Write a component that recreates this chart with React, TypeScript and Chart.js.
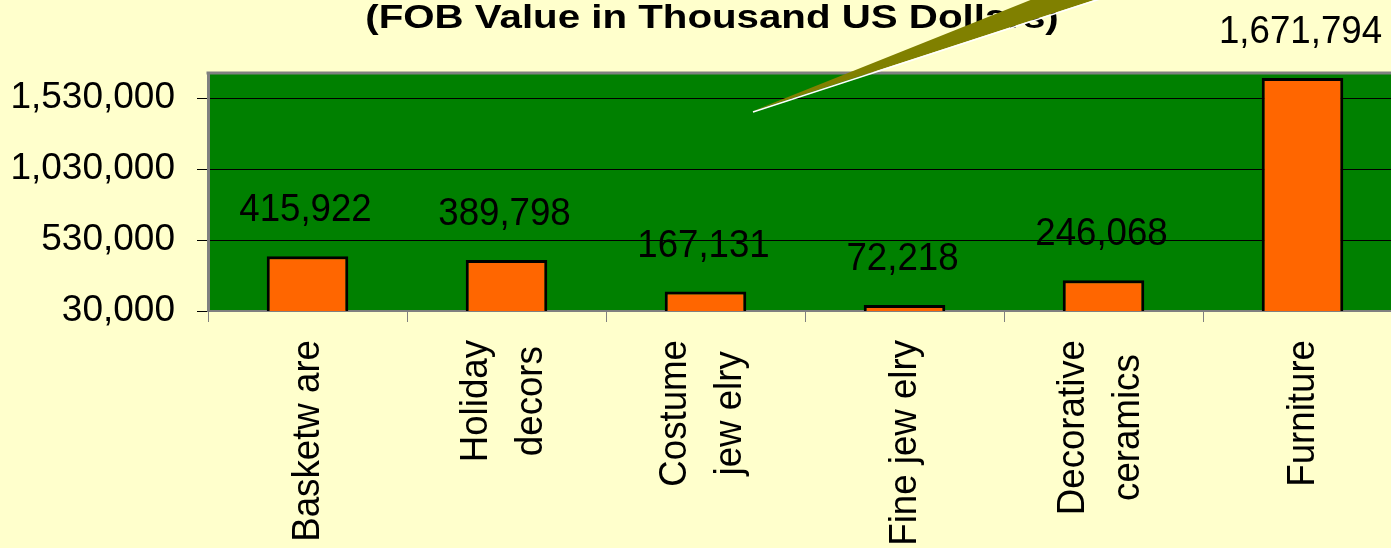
import React, { useEffect, useRef } from 'react';
import { Chart, registerables } from 'chart.js';

Chart.register(...registerables);

// ---- data ----
const CATEGORIES: string[][] = [
  ['Basketw are'],
  ['Holiday', 'decors'],
  ['Costume', 'jew elry'],
  ['Fine jew elry'],
  ['Decorative', 'ceramics'],
  ['Furniture'],
];
const VALUES: number[] = [415922, 389798, 167131, 72218, 246068, 1671794];
const Y_TICKS: number[] = [30000, 530000, 1030000, 1530000];
const Y_MIN = 30000;
const Y_MAX = 1700000;
const TITLE = '(FOB Value in Thousand US Dollars)';

// ---- styling ----
const FONT = '"Liberation Sans", Arial, sans-serif';
const CANVAS_W = 1402;
const CANVAS_H = 548;
const LABEL_SIZE = 39;
const LABEL_SQUEEZE = 0.94;

const fmt = (v: number) => Number(v).toLocaleString('en-US');

const decorPlugin = {
  id: 'decor',
  beforeDraw(chart: any) {
    const { ctx, chartArea: a } = chart;
    ctx.save();
    ctx.fillStyle = '#FFFFCC';
    ctx.fillRect(0, 0, chart.width, chart.height);
    ctx.fillStyle = '#008000';
    ctx.fillRect(a.left, a.top, a.right - a.left, a.bottom - a.top);
    ctx.restore();
  },
  afterDatasetsDraw(chart: any) {
    const { ctx, chartArea: a } = chart;
    const meta = chart.getDatasetMeta(0);
    const xs = chart.scales.x;
    ctx.save();
    // top border of plot area
    ctx.strokeStyle = '#808080';
    ctx.lineWidth = 3;
    ctx.beginPath();
    ctx.moveTo(a.left - 1.5, a.top - 1);
    ctx.lineTo(a.right, a.top - 1);
    ctx.stroke();

    // data labels
    ctx.fillStyle = '#000000';
    ctx.font = `${LABEL_SIZE}px ${FONT}`;
    ctx.textAlign = 'center';
    ctx.textBaseline = 'alphabetic';
    meta.data.forEach((bar: any, i: number) => {
      ctx.save();
      ctx.translate(bar.x - 2, bar.y - 35);
      ctx.scale(LABEL_SQUEEZE, 1);
      ctx.fillText(fmt(VALUES[i]), 0, 0);
      ctx.restore();
    });

    // category labels (rotated, lines centred in block)
    const capH = 0.716 * LABEL_SIZE;
    CATEGORIES.forEach((lines, i) => {
      const cx = xs.getPixelForValue(i);
      const maxW = Math.max(...lines.map((l) => ctx.measureText(l).width)) * LABEL_SQUEEZE;
      const cy = a.bottom + 29 + maxW / 2;
      const n = lines.length;
      const shift = n > 1 ? -5.5 : -2;
      lines.forEach((line, j) => {
        const capCenter = cx + shift + (j - (n - 1) / 2) * 55;
        ctx.save();
        ctx.translate(capCenter + capH / 2, cy);
        ctx.rotate(-Math.PI / 2);
        ctx.scale(LABEL_SQUEEZE, 1);
        ctx.textAlign = 'center';
        ctx.textBaseline = 'alphabetic';
        ctx.fillText(line, 0, 0);
        ctx.restore();
      });
    });
    ctx.restore();
  },
  afterDraw(chart: any) {
    const { ctx } = chart;
    ctx.save();
    // title (partially visible line)
    ctx.fillStyle = '#000000';
    ctx.font = `bold 33px ${FONT}`;
    ctx.textAlign = 'center';
    ctx.textBaseline = 'alphabetic';
    ctx.translate(712, 28);
    ctx.scale(1.22, 1);
    ctx.fillText(TITLE, 0, 0);
    ctx.restore();

    // callout pointer
    ctx.save();
    const tx = 753, ty = 112;
    const k = 2;
    ctx.fillStyle = '#808000';
    ctx.beginPath();
    ctx.moveTo(tx, ty - 1);
    ctx.lineTo(tx + 280 * k, ty - 1 - 112 * k);
    ctx.lineTo(tx + 344 * k, ty - 1 - 112 * k);
    ctx.closePath();
    ctx.fill();
    ctx.strokeStyle = '#FFFFFF';
    ctx.lineWidth = 1.5;
    ctx.beginPath();
    ctx.moveTo(tx, ty);
    ctx.lineTo(tx + 344 * k, ty - 112 * k);
    ctx.stroke();
    ctx.restore();
  },
};

export default function App() {
  const canvasRef = useRef<HTMLCanvasElement | null>(null);

  useEffect(() => {
    if (!canvasRef.current) return;
    const chart = new Chart(canvasRef.current, {
      type: 'bar',
      data: {
        labels: CATEGORIES.map((c) => c.join(' ')),
        datasets: [
          {
            data: VALUES,
            backgroundColor: '#FF6600',
            borderColor: '#000000',
            borderWidth: 3,
            borderSkipped: false,
            barPercentage: 0.41,
            categoryPercentage: 1,
          },
        ],
      },
      options: {
        responsive: false,
        animation: false,
        devicePixelRatio: 1,
        layout: { padding: { top: 74, left: 0, right: 0, bottom: 0 } },
        plugins: {
          legend: { display: false },
          title: { display: false },
          tooltip: { enabled: false },
        },
        scales: {
          x: {
            offset: true,
            grid: {
              offset: true,
              drawOnChartArea: false,
              drawTicks: true,
              tickLength: 11,
              color: '#808080',
              lineWidth: 1,
            },
            border: { color: '#808080', width: 2 },
            ticks: { display: false },
            afterFit: (s: any) => {
              s.height = CANVAS_H - 311;
            },
          },
          y: {
            min: Y_MIN,
            max: Y_MAX,
            afterBuildTicks: (s: any) => {
              s.ticks = Y_TICKS.map((v) => ({ value: v }));
            },
            grid: { color: '#000000', lineWidth: 1, tickLength: 11, drawTicks: true },
            border: { color: '#808080', width: 3 },
            ticks: {
              padding: 22,
              color: '#000000',
              font: { family: FONT, size: 37 },
              callback: (v: any) => fmt(Number(v)),
            },
            afterFit: (s: any) => {
              s.width = 208;
            },
          },
        },
      },
      plugins: [decorPlugin],
    } as any);
    return () => chart.destroy();
  }, []);

  return (
    <div
      style={{
        position: 'fixed',
        left: 0,
        top: 0,
        width: '100vw',
        height: '100vh',
        overflow: 'hidden',
        background: '#FFFFCC',
      }}
    >
      <canvas
        ref={canvasRef}
        width={CANVAS_W}
        height={CANVAS_H}
        style={{ display: 'block', width: CANVAS_W, height: CANVAS_H }}
      />
    </div>
  );
}
